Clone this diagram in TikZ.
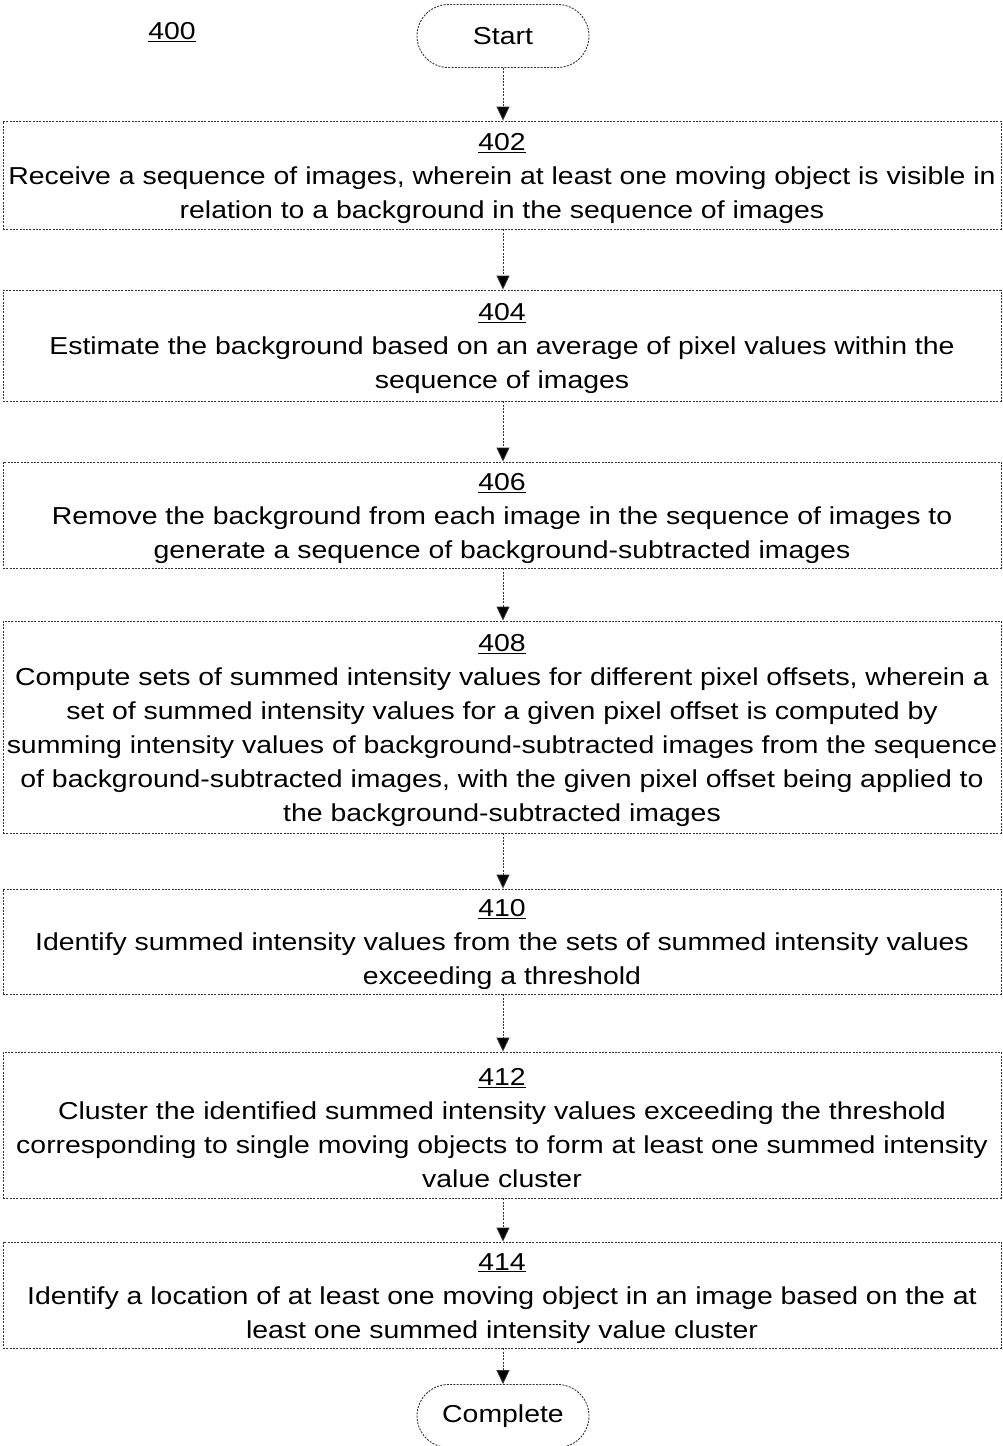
\documentclass[tikz,border=0pt]{standalone}
\usepackage{fontspec}
\setmainfont[FakeStretch=1.16]{Liberation Sans}
\usetikzlibrary{arrows.meta,shapes.misc}
\newcommand\numlab[1]{\rule{0pt}{23.5pt}\underline{#1}}
\begin{document}
\begin{tikzpicture}[x=1pt,y=1pt,
 dl/.style={draw=black!80, line width=0.9pt, dash pattern=on 2pt off 1.3pt},
 stepbox/.style={dl, rectangle, minimum width=998pt, align=center, inner sep=0pt, font=\fontsize{24.5}{34}\selectfont},
 term/.style={dl, rounded rectangle, minimum width=172pt, minimum height=63pt, inner sep=0pt, font=\fontsize{24.5}{30}\selectfont},
 arr/.style={dl, -{Triangle[length=14pt,width=13pt,fill=black]}}
]
\useasboundingbox (0,0) rectangle (1002,-1446);
\node[font=\fontsize{24.5}{30}\selectfont] (lbl) at (172,-32) {\underline{400}};
\node[term] (start) at (503,-36) {Start};
\node[stepbox, minimum height=108pt] (b402) at (502,-175) {\numlab{402}\\Receive a sequence of images, wherein at least one moving object is visible in\\relation to a background in the sequence of images};
\node[stepbox, minimum height=111pt] (b404) at (502,-345.5) {\numlab{404}\\Estimate the background based on an average of pixel values within the\\sequence of images};
\node[stepbox, minimum height=106pt] (b406) at (502,-515) {\numlab{406}\\Remove the background from each image in the sequence of images to\\generate a sequence of background-subtracted images};
\node[stepbox, minimum height=212pt] (b408) at (502,-727) {\numlab{408}\\Compute sets of summed intensity values for different pixel offsets, wherein a\\set of summed intensity values for a given pixel offset is computed by\\summing intensity values of background-subtracted images from the sequence\\of background-subtracted images, with the given pixel offset being applied to\\the background-subtracted images};
\node[stepbox, minimum height=105pt] (b410) at (502,-941.5) {\numlab{410}\\Identify summed intensity values from the sets of summed intensity values\\exceeding a threshold};
\node[stepbox, minimum height=146pt] (b412) at (502,-1125) {\numlab{412}\\Cluster the identified summed intensity values exceeding the threshold\\corresponding to single moving objects to form at least one summed intensity\\value cluster};
\node[stepbox, minimum height=106pt] (b414) at (502,-1295) {\numlab{414}\\Identify a location of at least one moving object in an image based on the at\\least one summed intensity value cluster};
\node[term] (done) at (503,-1416) {Complete};
\draw[arr] (start.south) -- (start.south |- b402.north);
\draw[arr] (start.south |- b402.south) -- (start.south |- b404.north);
\draw[arr] (start.south |- b404.south) -- (start.south |- b406.north);
\draw[arr] (start.south |- b406.south) -- (start.south |- b408.north);
\draw[arr] (start.south |- b408.south) -- (start.south |- b410.north);
\draw[arr] (start.south |- b410.south) -- (start.south |- b412.north);
\draw[arr] (start.south |- b412.south) -- (start.south |- b414.north);
\draw[arr] (start.south |- b414.south) -- (done.north);
\end{tikzpicture}
\end{document}
